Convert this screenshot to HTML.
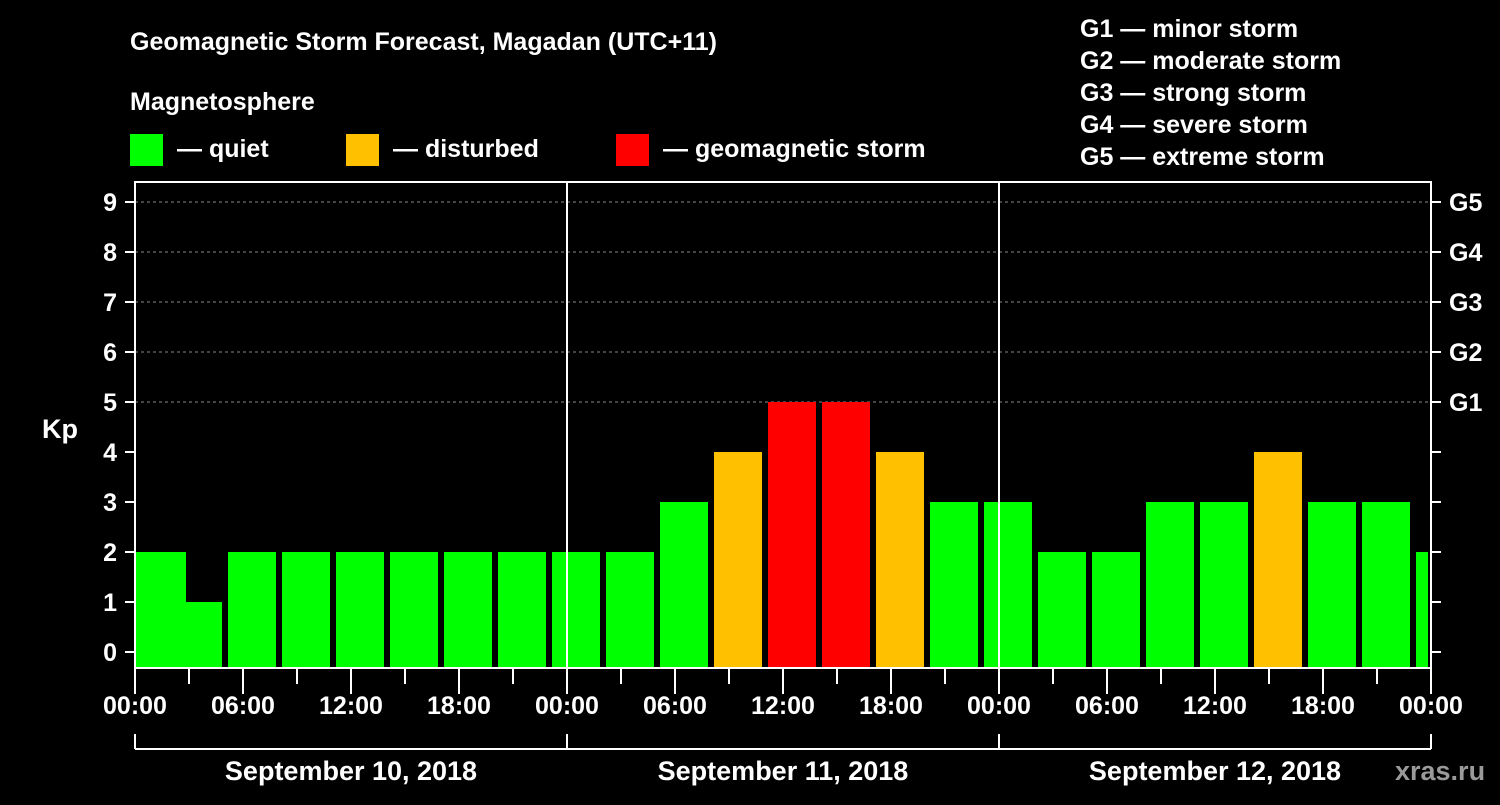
<!DOCTYPE html>
<html><head><meta charset="utf-8"><style>
body{margin:0;background:#000;width:1500px;height:800px;overflow:hidden}
svg text{font-family:"Liberation Sans",Arial,sans-serif;font-weight:bold;fill:#fff}
</style></head><body>
<svg id="c" width="1500" height="800" xmlns="http://www.w3.org/2000/svg">
<text x="130" y="50" font-size="25">Geomagnetic Storm Forecast, Magadan (UTC+11)</text>
<text x="130" y="110" font-size="25">Magnetosphere</text>
<g>
<rect x="130" y="134" width="33" height="32" fill="#00ff00"/>
<text x="177" y="157" font-size="25">— quiet</text>
<rect x="346" y="134" width="33" height="32" fill="#ffc000"/>
<text x="393" y="157" font-size="25">— disturbed</text>
<rect x="616" y="134" width="33" height="32" fill="#ff0000"/>
<text x="663" y="157" font-size="25">— geomagnetic storm</text>
</g>
<g font-size="25">
<text x="1080" y="37">G1 — minor storm</text>
<text x="1080" y="69">G2 — moderate storm</text>
<text x="1080" y="101">G3 — strong storm</text>
<text x="1080" y="133">G4 — severe storm</text>
<text x="1080" y="165">G5 — extreme storm</text>
</g>
<text x="42" y="438" font-size="27">Kp</text>
<text x="1395" y="780" font-size="27" fill="#999" style="fill:#9a9a9a">xras.ru</text>
<g id="plot"></g>
</svg>
<script>
const startHours=[0,2,5,8,11,14,17,20,23,26,29,32,35,38,41,44,47,50,53,56,59,62,65,68,71];
const kpValues=[2,1,2,2,2,2,2,2,2,2,3,4,5,5,4,3,3,2,2,3,3,4,3,3,2];
const yTicks=[0,1,2,3,4,5,6,7,8,9];
const gLabels=["G1","G2","G3","G4","G5"];
const gLevels=[5,6,7,8,9];
const timeLabels=["00:00","06:00","12:00","18:00","00:00","06:00","12:00","18:00","00:00","06:00","12:00","18:00","00:00"];
const dayLabels=["September 10, 2018","September 11, 2018","September 12, 2018"];
const X0=135,X1=1431,HOURS=72,YB=668,YT=182;
const x=h=>X0+(X1-X0)*h/HOURS;
const y=v=>652-50*v;
const NS="http://www.w3.org/2000/svg";
const P=document.getElementById('plot');
function mk(t,a){const e=document.createElementNS(NS,t);for(const k in a)e.setAttribute(k,a[k]);P.appendChild(e);return e;}
const col=v=>v>=5?"#ff0000":(v>=4?"#ffc000":"#00ff00");
// grid
gLevels.forEach((g,i)=>{const l=mk('line',{x1:X0,x2:X1,y1:y(g),y2:y(g),stroke:'#888','stroke-dasharray':'3,3','stroke-width':1});

});
// bars
kpValues.forEach((v,i)=>{const s=startHours[i],e=Math.min(s+3,HOURS);
let xa=x(s)+(s>0?3:1),xb=x(e)-(e<HOURS?3:3);
const r=mk('rect',{x:xa,y:y(v),width:xb-xa,height:YB-y(v),fill:col(v)});

});
// day separators
[24,48].forEach(h=>{const l=mk('line',{x1:x(h),x2:x(h),y1:YT,y2:YB,stroke:'#fff','stroke-width':2});

});
// frame
const fr=mk('rect',{x:X0,y:YT,width:X1-X0,height:YB-YT,fill:'none',stroke:'#fff','stroke-width':2});


// y ticks
yTicks.forEach(v=>{mk('line',{x1:X0-10,x2:X0,y1:y(v),y2:y(v),stroke:'#fff','stroke-width':2});
mk('line',{x1:X1,x2:X1+10,y1:y(v),y2:y(v),stroke:'#fff','stroke-width':2});
const t=mk('text',{x:X0-18,y:y(v)+9,'font-size':25,'text-anchor':'end'});t.textContent=v;

});
gLabels.forEach((g,i)=>{const t=mk('text',{x:X1+18,y:y(gLevels[i])+9,'font-size':25});t.textContent=g;

});
// x ticks
for(let h=0;h<=HOURS;h+=3){const maj=h%6==0;mk('line',{x1:x(h),x2:x(h),y1:YB,y2:YB+(maj?26:16),stroke:'#fff','stroke-width':2});}
timeLabels.forEach((s,i)=>{const t=mk('text',{x:x(i*6),y:714,'font-size':25,'text-anchor':'middle'});t.textContent=s;

});
// day bracket
mk('line',{x1:X0,x2:X1,y1:749,y2:749,stroke:'#fff','stroke-width':2});
[0,24,48,72].forEach(h=>mk('line',{x1:x(h),x2:x(h),y1:734,y2:749,stroke:'#fff','stroke-width':2}));
dayLabels.forEach((s,i)=>{const t=mk('text',{x:x(i*24+12),y:780,'font-size':27,'text-anchor':'middle'});t.textContent=s;

});
</script>
</body></html>
